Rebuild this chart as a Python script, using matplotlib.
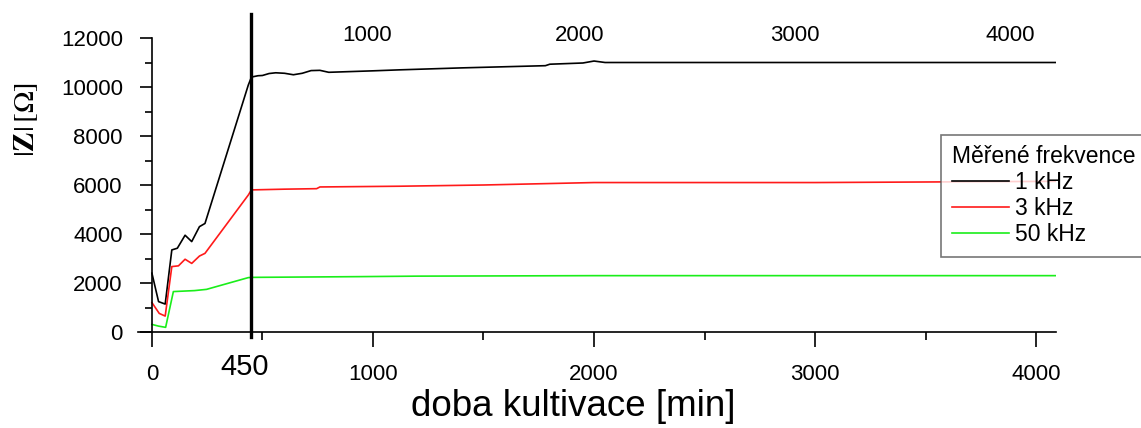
import matplotlib.pyplot as plt
from matplotlib.ticker import FixedLocator

plt.rcParams['font.family'] = ['Liberation Sans', 'DejaVu Sans']
plt.rcParams['mathtext.fontset'] = 'stix'

# cultivation time [min]
t1 = [0, 30, 60, 90, 115, 150, 180, 215, 240, 436, 450, 458, 480, 500, 530, 560, 600, 640, 680,
      720, 760, 800, 900, 1000, 1120, 1400, 1780, 1800, 1950, 2000, 2050, 3000, 4090]
z1 = [2400, 1240, 1140, 3350, 3420, 3950, 3690, 4300, 4430, 10080, 10400, 10420, 10460, 10470,
      10550, 10580, 10560, 10500, 10560, 10670, 10680, 10600, 10630, 10660, 10700, 10780, 10870,
      10930, 10980, 11060, 11000, 11000, 11000]

t3 = [0, 33, 60, 90, 120, 150, 180, 215, 240, 436, 450, 600, 745, 760, 1000, 1120, 1500, 2000,
      3000, 4090]
z3 = [1200, 760, 650, 2670, 2700, 2970, 2800, 3100, 3210, 5590, 5800, 5830, 5850, 5920, 5940,
      5950, 6000, 6100, 6100, 6150]

t50 = [0, 30, 62, 97, 193, 247, 436, 458, 940, 1200, 2000, 4090]
z50 = [310, 240, 190, 1650, 1690, 1740, 2220, 2230, 2260, 2280, 2300, 2300]

series = [(t1, z1, 'black', '1 kHz'), (t3, z3, '#ff1a1a', '3 kHz'), (t50, z50, '#1aee1a', '50 kHz')]

top_labels = ['1000', '2000', '3000', '4000']
top_label_x = [973, 1937, 2910, 3882]

fig = plt.figure(figsize=(11.41, 4.28), dpi=100)
ax = fig.add_axes([138 / 1141, 1 - 332 / 428, 918 / 1141, 318.5 / 428])

for t, z, c, lab in series:
    ax.plot(t, z, color=c, lw=1.2, label=lab)

ax.axvline(450, ymin=-0.015, ymax=1, color='black', lw=2.4, clip_on=False)

ax.set_xlim(-63, 4090)
ax.set_ylim(0, 13000)

for s in ['top', 'right']:
    ax.spines[s].set_visible(False)
ax.spines['left'].set_position(('data', 0))
ax.spines['left'].set_bounds(0, 12000)
ax.spines['left'].set_linewidth(1.2)
ax.spines['bottom'].set_linewidth(1.2)

ax.yaxis.set_major_locator(FixedLocator([0, 2000, 4000, 6000, 8000, 10000, 12000]))
ax.yaxis.set_minor_locator(FixedLocator([1000, 3000, 5000, 7000, 9000, 11000]))
ax.xaxis.set_major_locator(FixedLocator([0, 1000, 2000, 3000, 4000]))
ax.xaxis.set_minor_locator(FixedLocator([500, 1500, 2500, 3500]))
ax.tick_params(axis='y', which='major', direction='out', length=9, width=1.2, labelsize=16, pad=12)
ax.tick_params(axis='y', which='minor', direction='out', length=5, width=1.2)
ax.tick_params(axis='x', which='major', direction='out', length=11, width=1.2, labelsize=16, pad=12)
ax.tick_params(axis='x', which='minor', direction='out', length=6, width=1.2)

ax.annotate('450', xy=(450, -0.11), xycoords=ax.get_xaxis_transform(),
            xytext=(-5, 0), textcoords='offset points', ha='center', va='center', fontsize=21)

for lab, x in zip(top_labels, top_label_x):
    ax.text(x, 12100, lab, ha='center', va='center', fontsize=16)

ax.set_xlabel('doba kultivace [min]', fontsize=26.5)
ax.xaxis.set_label_coords((573 - 138) / 918, -0.18)
ax.set_ylabel(r'$|\mathbf{Z}|\,[\Omega]$', fontsize=21)
ax.yaxis.set_label_coords(-0.107, 0.666)

leg = ax.legend(title='Měřené frekvence', loc='upper left', bbox_to_anchor=(0.875, 0.62),
                frameon=True, fancybox=False, fontsize=16.5, title_fontsize=16.5,
                handlelength=2.5, handletextpad=0.25, borderpad=0.45, labelspacing=0.14,
                borderaxespad=0)
leg.get_frame().set_edgecolor('#555555')
leg.get_frame().set_linewidth(1.2)
leg._legend_box.align = 'left'

fig.savefig('out.png', dpi=100)
